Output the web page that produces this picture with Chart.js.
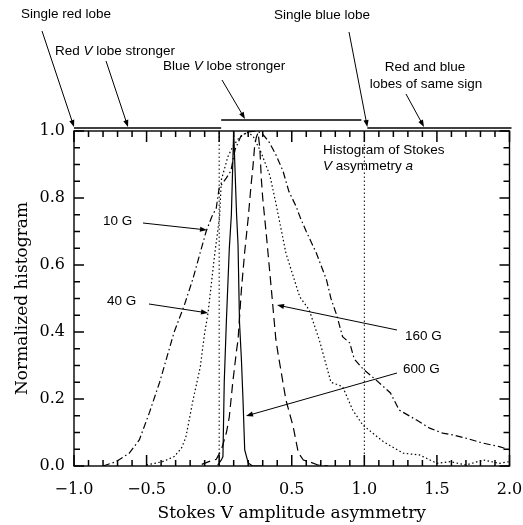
<!DOCTYPE html>
<html>
<head>
<meta charset="utf-8">
<script src="https://cdn.jsdelivr.net/npm/chart.js@4.4.0/dist/chart.umd.min.js"></script>
<style>
  html, body { margin: 0; padding: 0; background: #fff; }
</style>
</head>
<body>
<canvas id="myChart" width="523" height="525"></canvas>
<script>
// histogram of the Stokes V asymmetry, one curve per field strength
const x10 = [-0.80, -0.71, -0.62, -0.55, -0.48, -0.41, -0.31, -0.24, -0.18, -0.09, -0.05, -0.02, 0.00, 0.05, 0.08, 0.11, 0.15, 0.20, 0.25, 0.29, 0.34, 0.39, 0.44, 0.48, 0.53, 0.56, 0.60, 0.67, 0.74, 0.77, 0.81, 0.85, 0.90, 0.93, 0.99, 1.08, 1.18, 1.24, 1.36, 1.45, 1.54, 1.61, 1.70, 1.82, 1.93, 2.00];
const y10 = [0.000, 0.013, 0.038, 0.078, 0.160, 0.250, 0.400, 0.480, 0.560, 0.700, 0.745, 0.770, 0.830, 0.860, 0.880, 0.945, 0.985, 0.997, 1.000, 0.995, 0.970, 0.930, 0.880, 0.820, 0.775, 0.740, 0.700, 0.635, 0.555, 0.500, 0.450, 0.386, 0.367, 0.320, 0.290, 0.257, 0.218, 0.167, 0.137, 0.113, 0.098, 0.093, 0.083, 0.068, 0.058, 0.048];

const x40 = [-0.50, -0.39, -0.31, -0.26, -0.23, -0.18, -0.13, -0.10, -0.077, -0.03, 0.003, 0.015, 0.06, 0.093, 0.13, 0.19, 0.233, 0.29, 0.35, 0.39, 0.46, 0.555, 0.62, 0.69, 0.77, 0.85, 0.92, 0.99, 1.13, 1.27, 1.38, 1.50, 1.59, 1.70, 1.82, 1.93, 2.00];
const y40 = [0.003, 0.013, 0.028, 0.053, 0.085, 0.197, 0.296, 0.397, 0.456, 0.635, 0.744, 0.854, 0.923, 0.953, 0.976, 0.997, 0.985, 0.935, 0.866, 0.786, 0.635, 0.505, 0.466, 0.376, 0.250, 0.237, 0.167, 0.122, 0.073, 0.038, 0.033, 0.008, 0.013, 0.003, 0.018, 0.008, 0.013];

const x160 = [-0.12, -0.06, -0.02, 0.015, 0.05, 0.07, 0.093, 0.12, 0.13, 0.153, 0.176, 0.20, 0.22, 0.233, 0.245, 0.257, 0.268, 0.28, 0.29, 0.30, 0.325, 0.36, 0.39, 0.405, 0.46, 0.51, 0.545, 0.58, 0.62, 0.68, 0.75];
const y160 = [0.005, 0.015, 0.020, 0.048, 0.100, 0.147, 0.247, 0.346, 0.376, 0.525, 0.640, 0.740, 0.840, 0.895, 0.958, 0.983, 0.995, 0.950, 0.860, 0.800, 0.690, 0.525, 0.380, 0.337, 0.197, 0.117, 0.040, 0.018, 0.013, 0.003, 0.000];

const x600 = [-0.01, 0.015, 0.026, 0.035, 0.05, 0.07, 0.084, 0.10, 0.12, 0.13, 0.14, 0.153, 0.164, 0.176, 0.20, 0.23, 0.30];
const y600 = [0.003, 0.018, 0.028, 0.250, 0.436, 0.650, 0.750, 1.000, 0.750, 0.660, 0.430, 0.320, 0.200, 0.048, 0.009, 0.000, 0.000];

const fields = ["10 G", "40 G", "160 G", "600 G"];
const regimeEdges = [-1, 0, 1, 2];

const pts = (xs, ys) => xs.map((v, i) => ({ x: v, y: ys[i] }));
const fmt = (v) => (v < -1e-9 ? "\u2212" : "") + Math.abs(v).toFixed(1);

function arrow(ctx, x1, y1, x2, y2) {
  const ang = Math.atan2(y2 - y1, x2 - x1);
  const hl = 7, hw = 2.6;
  ctx.beginPath();
  ctx.moveTo(x1, y1);
  ctx.lineTo(x2 - Math.cos(ang) * hl * 0.8, y2 - Math.sin(ang) * hl * 0.8);
  ctx.stroke();
  ctx.beginPath();
  ctx.moveTo(x2, y2);
  ctx.lineTo(x2 - Math.cos(ang) * hl + Math.sin(ang) * hw, y2 - Math.sin(ang) * hl - Math.cos(ang) * hw);
  ctx.lineTo(x2 - Math.cos(ang) * hl - Math.sin(ang) * hw, y2 - Math.sin(ang) * hl + Math.cos(ang) * hw);
  ctx.closePath();
  ctx.fill();
}

// text in pieces, [string, italic]
function rich(ctx, parts, x, y, align) {
  const font = (it) => (it ? "italic " : "") + "13.5px 'Liberation Sans', Arial, sans-serif";
  let w = 0;
  parts.forEach(([t, it]) => { ctx.font = font(it); w += ctx.measureText(t).width; });
  let cx = align === "center" ? x - w / 2 : x;
  ctx.textAlign = "left";
  ctx.textBaseline = "middle";
  parts.forEach(([t, it]) => {
    ctx.font = font(it);
    ctx.fillText(t, cx, y);
    cx += ctx.measureText(t).width;
  });
}

// inward tick marks on all four sides
const tickMarks = {
  id: "tickMarks",
  afterDatasetsDraw(chart) {
    const c = chart.ctx;
    const a = chart.chartArea;
    const sx = chart.scales.x;
    const sy = chart.scales.y;
    c.save();
    c.setLineDash([]);
    c.strokeStyle = "#000000";
    c.lineWidth = 1.5;
    c.beginPath();
    for (let i = 0; i <= 30; i++) {
      const px = sx.getPixelForValue(-1 + i / 10);
      const len = i % 5 === 0 ? 11 : 6;
      c.moveTo(px, a.bottom);
      c.lineTo(px, a.bottom - len);
      c.moveTo(px, a.top);
      c.lineTo(px, a.top + len);
    }
    for (let i = 0; i <= 20; i++) {
      const py = sy.getPixelForValue(i / 20);
      const len = i % 4 === 0 ? 10 : 6;
      c.moveTo(a.left, py);
      c.lineTo(a.left + len, py);
      c.moveTo(a.right, py);
      c.lineTo(a.right - len, py);
    }
    c.stroke();
    c.restore();
  },
};

const deco = {
  id: "deco",
  afterDraw(chart) {
    const c = chart.ctx;
    const a = chart.chartArea;
    const sx = chart.scales.x;
    const sy = chart.scales.y;
    c.save();
    c.strokeStyle = "#000";
    c.fillStyle = "#000";

    // dotted regime boundaries
    c.lineWidth = 1;
    c.setLineDash([1.5, 2.5]);
    [0, 1].forEach((v) => {
      c.beginPath();
      c.moveTo(sx.getPixelForValue(v), sy.getPixelForValue(0));
      c.lineTo(sx.getPixelForValue(v), sy.getPixelForValue(1));
      c.stroke();
    });
    c.setLineDash([]);

    // frame
    c.lineWidth = 1.4;
    c.strokeRect(a.left, a.top, a.right - a.left, a.bottom - a.top);

    // regime bars above the plot
    c.lineWidth = 1.3;
    const e = regimeEdges.map((v) => sx.getPixelForValue(v));
    c.beginPath();
    c.moveTo(e[0], a.top - 3); c.lineTo(e[1] + 2, a.top - 3);
    c.moveTo(e[1] + 2, a.top - 11); c.lineTo(e[2] - 3, a.top - 11);
    c.moveTo(e[2] + 3, a.top - 3); c.lineTo(e[3] + 2, a.top - 3);
    c.stroke();

    c.lineWidth = 1;
    arrow(c, 42, 31, e[0], a.top - 4);
    arrow(c, 106, 61, 128, a.top - 4);
    arrow(c, 222, 80, 245, a.top - 12);
    arrow(c, 349, 32, e[2] + 3, a.top - 4);
    arrow(c, 406, 94, 424, a.top - 4);

    rich(c, [["Single red lobe", false]], 21, 14);
    rich(c, [["Red ", false], ["V", true], [" lobe stronger", false]], 55, 51);
    rich(c, [["Blue ", false], ["V", true], [" lobe stronger", false]], 163, 66);
    rich(c, [["Single blue lobe", false]], 274, 15);
    rich(c, [["Red and blue", false]], 425, 67, "center");
    rich(c, [["lobes of same sign", false]], 426, 84, "center");
    rich(c, [["Histogram of Stokes", false]], 323, 150);
    rich(c, [["V", true], [" asymmetry ", false], ["a", true]], 323, 166);

    // curve labels
    rich(c, [[fields[0], false]], 103, 221);
    rich(c, [[fields[1], false]], 107, 301);
    rich(c, [[fields[2], false]], 405, 336);
    rich(c, [[fields[3], false]], 403, 369);
    arrow(c, 143, 223, 207, 230);
    arrow(c, 149, 304, 208, 313);
    arrow(c, 397, 330, 277, 305);
    arrow(c, 397, 373, 246, 416);

    c.restore();
  },
};

const line = (label, xs, ys, dash) => ({
  label: label,
  data: pts(xs, ys),
  showLine: true,
  borderColor: "#000",
  borderWidth: 1.2,
  borderDash: dash,
  pointRadius: 0,
  tension: 0,
  fill: false,
});

const ctx = document.getElementById("myChart").getContext("2d");
const myChart = new Chart(ctx, {
  type: "scatter",
  data: {
    datasets: [
      line(fields[0], x10, y10, [7, 3, 1.5, 3]),
      line(fields[1], x40, y40, [1.5, 2.5]),
      line(fields[2], x160, y160, [9, 5]),
      line(fields[3], x600, y600, []),
    ],
  },
  options: {
    responsive: false,
    animation: false,
    layout: { padding: { top: 131, right: 13.5, left: 0, bottom: 0 } },
    plugins: { legend: { display: false }, tooltip: { enabled: false } },
    scales: {
      x: {
        type: "linear",
        min: -1,
        max: 2,
        grid: { display: false, drawTicks: false },
        border: { display: false },
        ticks: {
          stepSize: 0.5,
          padding: 14,
          color: "#000",
          font: { family: "'DejaVu Serif', serif", size: 16 },
          callback: (v) => fmt(v),
        },
        title: {
          display: true,
          text: "Stokes V amplitude asymmetry",
          color: "#000",
          font: { family: "'DejaVu Serif', serif", size: 17 },
          padding: { top: 0, bottom: 1 },
        },
        afterFit: (s) => { s.height = 59; s.paddingLeft = 0; s.paddingRight = 0; },
      },
      y: {
        min: 0,
        max: 1,
        grid: { display: false, drawTicks: false },
        border: { display: false },
        ticks: {
          stepSize: 0.2,
          padding: 9,
          color: "#000",
          font: { family: "'DejaVu Serif', serif", size: 16 },
          callback: (v) => fmt(v),
        },
        title: {
          display: true,
          text: "Normalized histogram",
          color: "#000",
          font: { family: "'DejaVu Serif', serif", size: 17 },
          padding: { top: 12, bottom: 0 },
        },
        afterFit: (s) => { s.width = 74; s.paddingTop = 0; s.paddingBottom = 0; },
      },
    },
  },
  plugins: [tickMarks, deco],
});
</script>
</body>
</html>
